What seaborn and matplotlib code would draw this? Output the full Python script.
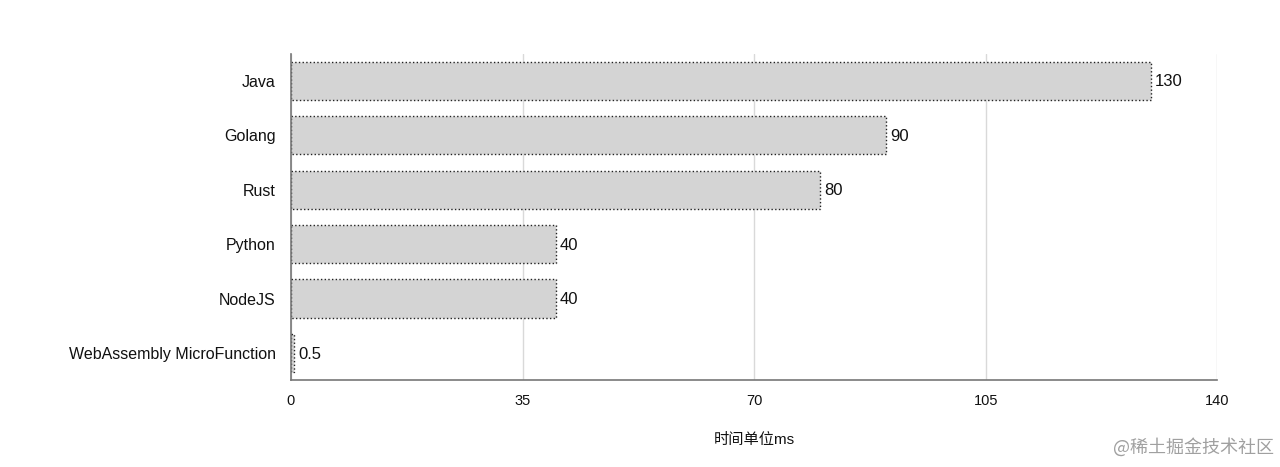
import matplotlib
matplotlib.use('Agg')
import matplotlib.pyplot as plt
import seaborn as sns
import pandas as pd

# ── Data ──────────────────────────────────────────────────────────────────────
LANGUAGES = ['Java', 'Golang', 'Rust', 'Python', 'NodeJS', 'WebAssembly MicroFunction']
TIMES_MS  = [130, 90, 80, 40, 40, 0.5]
VALUE_LABELS = ['130', '90', '80', '40', '40', '0.5']
X_TICKS   = [0, 35, 70, 105, 140]

df = pd.DataFrame({'lang': LANGUAGES, 'ms': TIMES_MS})

# ── Style ─────────────────────────────────────────────────────────────────────
sns.set_style('white')
plt.rcParams['font.family'] = ['Liberation Sans', 'Noto Sans CJK SC', 'DejaVu Sans']

fig = plt.figure(figsize=(12.8, 4.67), dpi=100)
ax = fig.add_axes([0.2273, 0.186, 0.7237, 0.699])

sns.barplot(data=df, x='ms', y='lang', order=LANGUAGES, color='#d4d4d4',
            width=0.7, edgecolor='#222222', linewidth=1.0, linestyle=':',
            saturation=1, ax=ax)

for patch, label in zip(ax.patches, VALUE_LABELS):
    ax.text(patch.get_width() + 0.6, patch.get_y() + patch.get_height() / 2 + 0.02,
            label, va='center', ha='left', fontsize=12, color='#111111')

ax.set_xlim(0, 140)
ax.set_xticks(X_TICKS)
ax.set_xticklabels([str(t) for t in X_TICKS], fontsize=10.5)
ax.tick_params(axis='x', length=0, pad=10, labelcolor='#111111')
ax.tick_params(axis='y', length=0, pad=11, labelsize=11.5, labelcolor='#111111')
ax.xaxis.grid(True, color='#d9d9d9', linewidth=1)
ax.yaxis.grid(False)
ax.set_axisbelow(True)

for side in ['top', 'right']:
    ax.spines[side].set_visible(False)
for side in ['left', 'bottom']:
    ax.spines[side].set_color('#777777')
    ax.spines[side].set_linewidth(1.2)

ax.set_ylabel('')
ax.set_xlabel('时间单位ms', fontsize=11, labelpad=18, color='#111111')

fig.text(0.995, 0.022, '@稀土掘金技术社区', ha='right', va='bottom',
         fontsize=13, color='#a0a0a0', family=['Noto Sans CJK SC', 'DejaVu Sans'])

fig.savefig('out.png', dpi=100, facecolor='white')
